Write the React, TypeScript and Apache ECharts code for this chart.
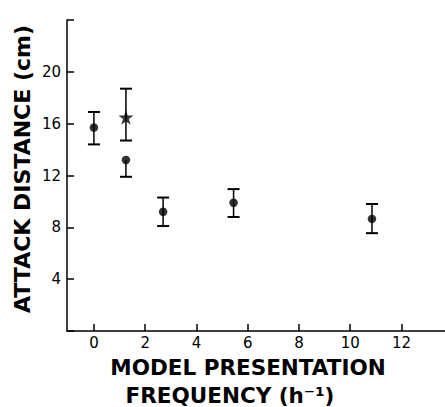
import React, { useEffect, useRef } from "react";
import * as echarts from "echarts";

// Data
const dotX = [0, 1.25, 2.7, 5.45, 10.85];
const dotY = [15.7, 13.2, 9.2, 9.9, 8.65];
const starX = [1.25];
const starY = [16.5];
// error bars: x, low, high (null = no upper bar), centre
const errX = [0, 1.25, 1.25, 2.7, 5.45, 10.85];
const errLow = [14.4, 14.7, 11.9, 8.1, 8.8, 7.55];
const errHigh: (number | null)[] = [16.9, 18.7, null, 10.3, 10.95, 9.8];
const errMid = [15.7, 16.5, 13.2, 9.2, 9.9, 8.65];

const xTicks = [0, 2, 4, 6, 8, 10, 12];
const yTicks = [4, 8, 12, 16, 20];

const xTitle1 = "MODEL PRESENTATION";
const xTitle2 = "FREQUENCY (h⁻¹)";
const yTitle = "ATTACK DISTANCE (cm)";

const STAR =
  "path://M50,0 L61.2,34.5 L97.6,34.5 L68.2,55.9 L79.4,90.5 L50,69.1 L20.6,90.5 L31.8,55.9 L2.4,34.5 L38.8,34.5 Z";

export default function App() {
  const ref = useRef<HTMLDivElement>(null);
  useEffect(() => {
    if (!ref.current) return;
    const chart = echarts.init(ref.current, undefined, { renderer: "svg" });
    const errData = errX.map((x, i) => [x, errLow[i], errHigh[i], errMid[i]]);
    chart.setOption({
      animation: false,
      backgroundColor: "#fff",
      grid: { left: 67, right: 0, top: 20, bottom: 76 },
      xAxis: {
        type: "value",
        min: -1.05,
        max: 13.7,
        splitLine: { show: false },
        axisLine: { show: true, onZero: false, lineStyle: { color: "#000", width: 1.5 } },
        axisTick: {
          show: true,
          inside: true,
          length: 7,
          customValues: xTicks,
          lineStyle: { color: "#000", width: 1.5 },
        },
        axisLabel: {
          customValues: xTicks,
          margin: 4,
          color: "#000",
          fontSize: 15,
          fontFamily: "DejaVu Sans",
        },
      },
      yAxis: {
        type: "value",
        min: 0,
        max: 24,
        interval: 4,
        splitLine: { show: false },
        axisLine: { show: true, onZero: false, lineStyle: { color: "#000", width: 1.5 } },
        axisTick: { show: true, inside: true, length: 7, lineStyle: { color: "#000", width: 1.5 } },
        axisLabel: {
          margin: 6,
          color: "#000",
          fontSize: 15,
          fontFamily: "DejaVu Sans",
          formatter: (v: number) => (yTicks.indexOf(v) >= 0 ? String(v) : ""),
        },
      },
      graphic: [
        {
          type: "text",
          x: 248,
          y: 367,
          style: {
            text: xTitle1,
            fill: "#000",
            font: "bold 21.5px 'DejaVu Sans'",
            align: "center",
            verticalAlign: "middle",
          },
        },
        {
          type: "text",
          x: 230,
          y: 395,
          style: {
            text: xTitle2,
            fill: "#000",
            font: "bold 21.5px 'DejaVu Sans'",
            align: "center",
            verticalAlign: "middle",
          },
        },
        {
          type: "text",
          x: 22,
          y: 169,
          rotation: Math.PI / 2,
          style: {
            text: yTitle,
            fill: "#000",
            font: "bold 22px 'DejaVu Sans'",
            align: "center",
            verticalAlign: "middle",
          },
        },
      ],
      series: [
        {
          type: "custom",
          data: errData,
          encode: { x: 0, y: [1, 3] },
          z: 1,
          renderItem: (params: any, api: any) => {
            const x = api.value(0);
            const lo = api.value(1);
            const hi = api.value(2);
            const mid = api.value(3);
            const hasTop = typeof hi === "number" && hi > lo;
            const pLo = api.coord([x, lo]);
            const pTop = api.coord([x, hasTop ? hi : mid]);
            const half = 6;
            const st = { stroke: "#000", lineWidth: 1.5 };
            const children: any[] = [
              { type: "line", shape: { x1: pLo[0], y1: pLo[1], x2: pTop[0], y2: pTop[1] }, style: st },
              {
                type: "line",
                shape: { x1: pLo[0] - half, y1: pLo[1], x2: pLo[0] + half, y2: pLo[1] },
                style: { stroke: "#000", lineWidth: 2 },
              },
            ];
            if (hasTop) {
              children.push({
                type: "line",
                shape: { x1: pTop[0] - half, y1: pTop[1], x2: pTop[0] + half, y2: pTop[1] },
                style: { stroke: "#000", lineWidth: 2 },
              });
            }
            return { type: "group", children };
          },
        },
        {
          type: "scatter",
          data: dotX.map((x, i) => [x, dotY[i]]),
          symbol: "circle",
          symbolSize: 8.5,
          itemStyle: { color: "#000" },
          z: 3,
        },
        {
          type: "scatter",
          data: starX.map((x, i) => [x, starY[i]]),
          symbol: STAR,
          symbolSize: 15,
          itemStyle: { color: "#000" },
          z: 3,
        },
      ],
    });
    return () => chart.dispose();
  }, []);
  return (
    <div
      ref={ref}
      style={{ position: "fixed", left: 0, top: 0, width: 445, height: 407, background: "#fff" }}
    />
  );
}
